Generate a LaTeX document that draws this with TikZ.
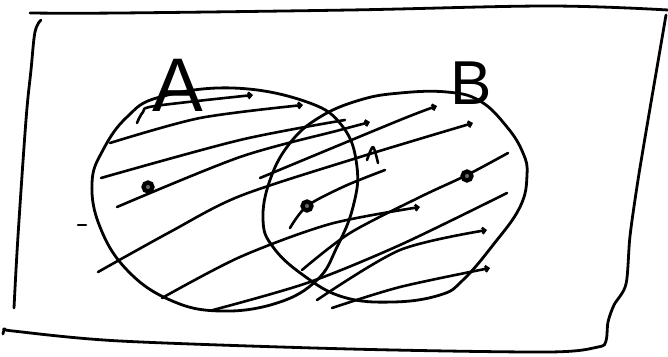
\documentclass[tikz,border=0pt]{standalone}
\usepackage{fontspec}
\setsansfont{Liberation Sans}
\usetikzlibrary{arrows.meta}

\begin{document}
\begin{tikzpicture}[x=1pt, y=-1pt,
  ink/.style={line width=2.8pt, line cap=round, line join=round, black},
  hatch/.style={ink, line width=2.6pt},
  barb/.style={hatch, -{Straight Barb[length=3pt, width=6pt]}},
  setlabel/.style={font=\sffamily\fontsize{#1}{#1}\selectfont, inner sep=0pt},
  dotmark/.style={circle, draw, fill=black!60, line width=4.2pt, minimum size=9pt, inner sep=0pt},
]

\useasboundingbox (0,0) rectangle (668,356);

% =============================================
% Frame (hand drawn rectangle)
% =============================================
\draw[ink] plot[smooth, tension=0.6] coordinates
  {(30,13) (120,13) (350,10) (548,6) (668,10)};
\draw[ink] plot[smooth, tension=0.6] coordinates
  {(41,20) (35,32) (31,70) (26,120) (18,236) (14,308)};
\draw[ink] plot[smooth, tension=0.5] coordinates
  {(666,15) (660,50) (648,120) (638,180) (630,236) (626,284) (614,305)
   (608,322) (606,341) (598,347) (548,352) (350,349) (120,341) (13,331)
   (5,329) (3,334)};

% =============================================
% Set A and set B
% =============================================
\draw[ink] plot[smooth cycle, tension=0.7] coordinates
  {(233,88) (307,102) (343,127) (357,167) (353,207) (337,247) (317,280)
   (277,303) (220,311) (170,300) (127,270) (100,227) (92,183) (103,150)
   (127,117) (160,97)};
\draw[ink] plot[smooth cycle, tension=0.7] coordinates
  {(447,92) (480,101) (507,127) (523,153) (527,175) (520,207) (493,245)
   (463,280) (440,295) (393,302) (343,297) (303,275) (273,247) (263,220)
   (270,180) (290,143) (320,117) (360,100) (400,93)};

\node[setlabel=76] (labelA) at (178,85) {A};
\node[setlabel=62] (labelB) at (471,83) {B};

% =============================================
% Hatching
% =============================================
\draw[barb] plot[smooth] coordinates {(137,123) (143,112) (155,106) (253,95)};
\draw[barb] plot[smooth] coordinates {(110,143) (200,118) (303,105)};
\draw[hatch] plot[smooth] coordinates {(101,178) (240,140) (345,120)};
\draw[barb] plot[smooth] coordinates {(117,207) (240,157) (340,130) (370,122)};
\draw[barb] plot[smooth] coordinates {(98,272) (170,232) (240,196) (360,157) (473,123)};
\draw[barb] plot[smooth] coordinates {(162,298) (240,257) (330,224) (420,207)};
\draw[hatch] plot[smooth] coordinates {(213,310) (307,283) (400,245) (507,193)};
\draw[barb] plot[smooth] coordinates {(260,178) (400,120) (437,106)};
\draw[hatch] plot[smooth] coordinates {(302,270) (350,233) (420,197) (467,175) (508,153)};
\draw[barb] plot[smooth] coordinates {(317,300) (400,250) (487,230)};
\draw[barb] plot[smooth] coordinates {(332,308) (400,287) (490,268)};
\draw[hatch] plot[smooth] coordinates {(290,228) (307,206) (345,186) (385,170)};

% small marks
\draw[hatch] plot[smooth] coordinates {(367,160) (373,147) (378,163)};
\draw[hatch] (78,225) -- (86,225);

% =============================================
% Elements
% =============================================
\node[dotmark] (dotA) at (148,187) {};
\node[dotmark] (dotAB) at (307,206) {};
\node[dotmark] (dotB) at (467,176) {};

\end{tikzpicture}
\end{document}
